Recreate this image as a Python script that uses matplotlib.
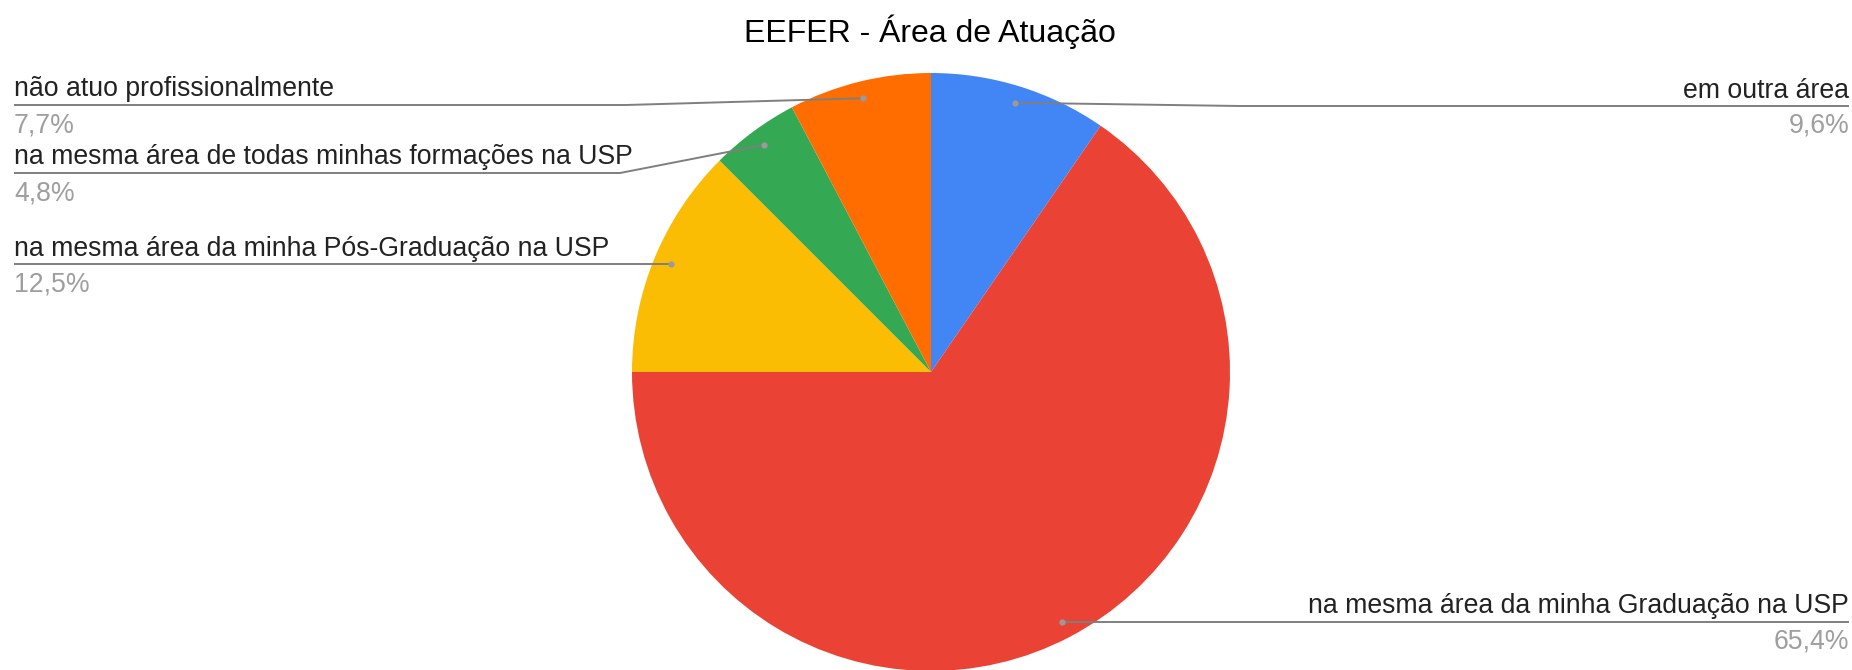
import numpy as np
import matplotlib
matplotlib.use("Agg")
import matplotlib.pyplot as plt

# ---- data ----
categories = [
    "em outra área",
    "na mesma área da minha Graduação na USP",
    "na mesma área da minha Pós-Graduação na USP",
    "na mesma área de todas minhas formações na USP",
    "não atuo profissionalmente",
]
values = [9.6, 65.4, 12.5, 4.8, 7.7]
pct_labels = ["9,6%", "65,4%", "12,5%", "4,8%", "7,7%"]
colors = ["#4285F4", "#EA4335", "#FBBC04", "#34A853", "#FF6D01"]
title = "EEFER - Área de Atuação"

# ---- layout (pixel coordinates, y measured from top) ----
W, H = 1852, 670
cx, cy_top, R = 931, 372, 299
# side (+1 right / -1 left), y of underline, x where leader turns horizontal (None = straight)
label_side = [1, 1, -1, -1, -1]
label_line_y = [106, 622, 263, 173, 105]
label_elbow_x = [1240, None, None, 620, 626]
left_x, right_x = 14, 1849

plt.rcParams['font.family'] = ['Liberation Sans', 'DejaVu Sans']
fig = plt.figure(figsize=(W / 100, H / 100), dpi=100)
ax = fig.add_axes([0, 0, 1, 1])

def Y(y_top):
    return H - y_top

wedges, _ = ax.pie(values, colors=colors, startangle=90, counterclock=False,
                   center=(cx, Y(cy_top)), radius=R,
                   wedgeprops=dict(linewidth=0))

ax.set_xlim(0, W)
ax.set_ylim(0, H)
ax.set_aspect('equal')
ax.axis('off')

line_col = "#7f7f7f"
fs = 19.2
for i, w in enumerate(wedges):
    mid = np.deg2rad((w.theta1 + w.theta2) / 2)
    dx = cx + 0.943 * R * np.cos(mid)
    dy = Y(cy_top) + 0.943 * R * np.sin(mid)
    ly = Y(label_line_y[i])
    side = label_side[i]
    end_x = right_x if side > 0 else left_x
    pts_x = [dx]
    pts_y = [dy]
    if label_elbow_x[i] is not None:
        pts_x.append(label_elbow_x[i])
        pts_y.append(ly)
        final_y = ly
    else:
        final_y = dy
    pts_x.append(end_x)
    pts_y.append(final_y)
    ax.plot(pts_x, pts_y, color=line_col, lw=1.4, solid_capstyle='butt', zorder=3)
    ax.plot([dx], [dy], 'o', ms=4.5, color="#9a9a9a", zorder=4, mec='none')
    ha = 'right' if side > 0 else 'left'
    ax.text(end_x, final_y + 8.5, categories[i], ha=ha, va='baseline',
            fontsize=fs, color="#222222")
    ax.text(end_x, final_y - 27, pct_labels[i], ha=ha, va='baseline',
            fontsize=fs, color="#9e9e9e")

ax.text(930, Y(32), title, ha='center', va='center', fontsize=23, color="#000000")

fig.savefig("out.png", dpi=100)
